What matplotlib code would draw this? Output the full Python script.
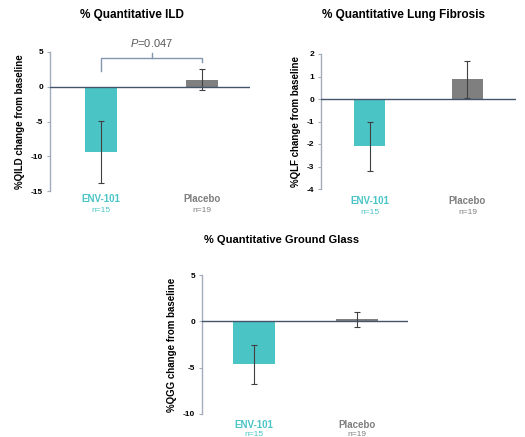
import matplotlib.pyplot as plt

plt.rcParams['font.family'] = ['Liberation Sans', 'DejaVu Sans']
plt.rcParams['mathtext.fontset'] = 'custom'
plt.rcParams['mathtext.it'] = 'Liberation Sans:italic'
plt.rcParams['mathtext.rm'] = 'Liberation Sans'

groups = ['ENV-101', 'Placebo']
n_labels = ['n=15', 'n=19']

ild_vals = [-9.4, 1.0]
ild_err = [4.5, 1.5]
qlf_vals = [-2.1, 0.87]
qlf_err = [1.1, 0.82]
qgg_vals = [-4.65, 0.2]
qgg_err = [2.1, 0.8]
p_text = '=0.047'

teal = '#4bc4c6'
grey = '#7f7f7f'
dark = '#44546a'
spine_c = '#a3acba'

fig = plt.figure(figsize=(5.25, 4.37), dpi=100)
W, H = 525, 437


def box(x0, y0, x1, y1):
    return [x0 / W, 1 - y1 / H, (x1 - x0) / W, (y1 - y0) / H]


def draw(ax, vals, err, ylim, yticks, xlim, width, ylabel, off, gap=11):
    ax.bar([0, 1], vals, width=width, color=[teal, grey], zorder=2)
    ax.errorbar([0, 1], vals, yerr=err, fmt='none', ecolor='#404040',
                elinewidth=0.8, capsize=2, capthick=0.8, zorder=3)
    ax.axhline(0, color=dark, lw=1.0, zorder=4)
    ax.set_ylim(*ylim)
    ax.set_xlim(*xlim)
    ax.set_yticks(yticks)
    ax.set_yticklabels([str(t) for t in yticks], fontsize=6, fontweight='bold')
    ax.tick_params(axis='y', length=2, width=0.8, color=spine_c, pad=3)
    ax.set_xticks([])
    for s in ['top', 'right', 'bottom']:
        ax.spines[s].set_visible(False)
    ax.spines['left'].set_color(spine_c)
    ax.spines['left'].set_linewidth(1.0)
    ax.set_ylabel(ylabel, fontsize=7, fontweight='bold', labelpad=4)
    for i, c in enumerate([teal, grey]):
        ax.annotate(groups[i], xy=(i, ylim[0]), xycoords='data',
                    xytext=(0, -off * 0.72), textcoords='offset points',
                    ha='center', va='center', fontsize=7,
                    fontweight='bold', color=c, annotation_clip=False)
        ax.annotate(n_labels[i], xy=(i, ylim[0]), xycoords='data',
                    xytext=(0, -(off + gap) * 0.72), textcoords='offset points',
                    ha='center', va='center', fontsize=6, color=c,
                    annotation_clip=False)


ax1 = fig.add_axes(box(50, 52, 250, 191))
draw(ax1, ild_vals, ild_err, (-15, 5), [-15, -10, -5, 0, 5], (-0.505, 1.475),
     0.32, '%QILD change from baseline', 8)
# significance bracket
ax1.plot([0, 0, 1, 1], [2.3, 4.1, 4.1, 3.6], color='#8496b0', lw=1.0,
         clip_on=False)
ax1.plot([0.5, 0.5], [4.1, 4.9], color='#8496b0', lw=1.0, clip_on=False)
ax1.text(0.5, 6.3, r'$\mathit{P}$' + p_text, ha='center', va='center',
         fontsize=8, color='#595959')

ax2 = fig.add_axes(box(321, 54, 516, 189))
draw(ax2, qlf_vals, qlf_err, (-4, 2), [-4, -3, -2, -1, 0, 1, 2],
     (-0.495, 1.495), 0.32, '%QLF change from baseline', 12)

ax3 = fig.add_axes(box(202, 275, 408, 414))
draw(ax3, qgg_vals, qgg_err, (-10, 5), [-10, -5, 0, 5], (-0.505, 1.495),
     0.41, '%QGG change from baseline', 11, gap=10)

fig.text(132 / W, 1 - 15 / H, '% Quantitative ILD', ha='center', va='center',
         fontsize=8.5, fontweight='bold')
fig.text(404 / W, 1 - 15 / H, '% Quantitative Lung Fibrosis', ha='center',
         va='center', fontsize=8.5, fontweight='bold')
fig.text(282 / W, 1 - 240 / H, '% Quantitative Ground Glass', ha='center',
         va='center', fontsize=8, fontweight='bold')

fig.savefig('out.png', dpi=100)
